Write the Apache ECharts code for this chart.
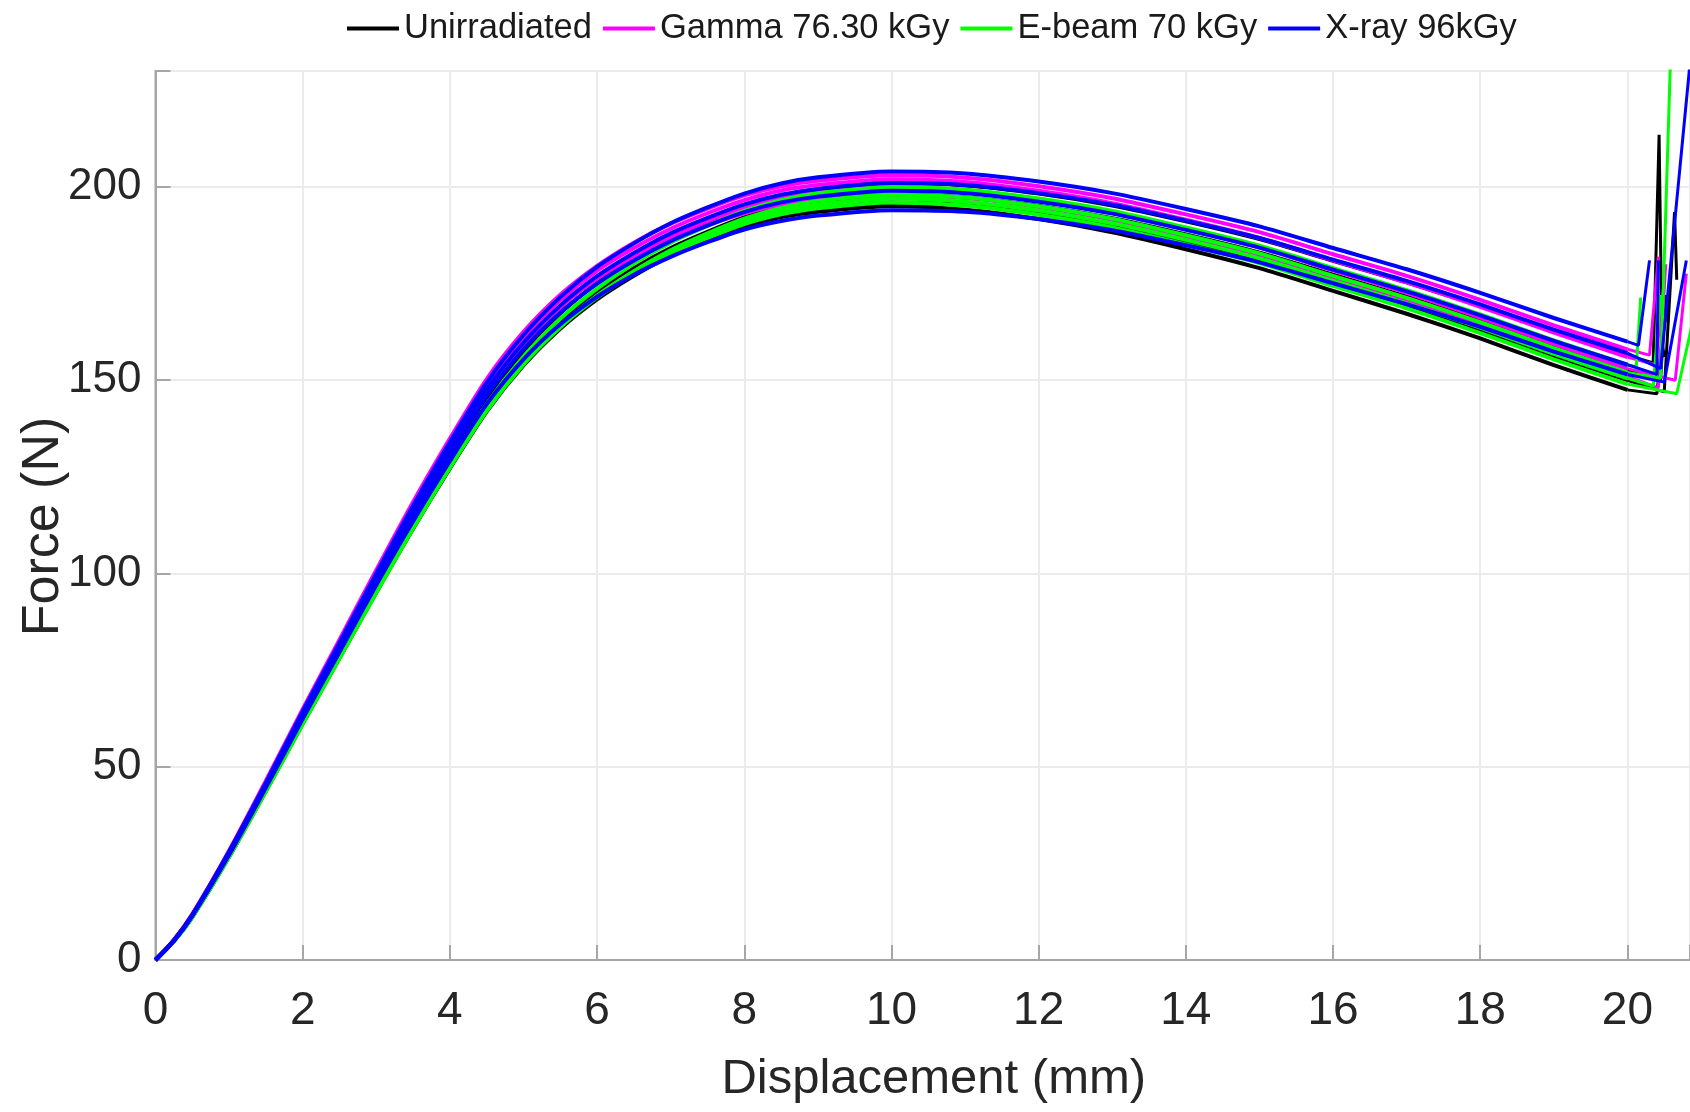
<!DOCTYPE html>
<html>
<head>
<meta charset="utf-8">
<script src="https://cdn.jsdelivr.net/npm/echarts@6/dist/echarts.min.js"></script>
<style>
html,body{margin:0;padding:0;background:#fff;}
#chart{width:1690px;height:1112px;}
</style>
</head>
<body>
<div id="chart"></div>
<script>
// Displacement grid (mm) shared by all specimen curves
const X = [0,0.25,0.5,1,1.5,2,2.5,3,3.5,4,4.5,5,5.5,6,6.5,7,7.5,8,8.5,9,10,11,12,13,14,15,16,17,18,19,20];

// Unirradiated specimens (Force, N)
const K1 = [0,4.9,11.4,27.2,44.6,62.4,79.7,97.0,114.1,130.2,145.3,157.5,167.3,175.1,181.5,186.8,191.1,194.9,197.7,199.4,201,200.4,198.3,195.2,191.1,186.5,180.9,175.3,169.2,162.6,156.5];
const K2 = [0,4.9,11.3,26.9,44.1,61.7,78.9,96.0,112.8,128.6,143.5,155.5,165.1,172.7,179.0,184.2,188.4,192.1,194.8,196.4,198,197.3,195.1,191.9,187.7,183.0,177.3,171.6,165.4,158.7,152.5];
const K3 = [0,4.9,11.1,26.7,43.7,61.1,78.1,95.1,111.6,127.2,141.9,153.8,163.3,170.9,177.0,182.2,186.4,190.1,192.8,194.4,196,195.3,193.0,189.8,185.5,180.8,175.0,169.3,163.0,156.3,150.0];
const K4 = [0,4.9,11.4,27.2,44.6,62.4,79.7,97.0,113.6,129.3,144.0,155.7,164.9,172.1,177.9,182.6,186.5,189.8,192.2,193.6,195,194.1,191.7,188.3,183.9,179.0,173.1,167.2,160.8,153.9,147.5];
const K1end = [[20.35,154.5],[20.43,213.5],[20.46,172]];
const K2end = [[20.45,150],[20.52,172],[20.55,165]];
const K3end = [[20.5,147],[20.64,193.5],[20.67,176]];
const K4end = [[20.4,146.5],[20.47,160],[20.5,156]];

// Gamma 76.30 kGy specimens
const G1 = [0,5.2,11.9,28.3,46.4,64.9,82.9,100.9,118.5,134.9,150.3,162.5,172.1,179.6,185.6,190.5,194.4,197.8,200.2,201.6,203,202.4,200.2,197.1,192.9,188.3,182.6,177.0,170.8,164.2,158.0];
const G2 = [0,5.1,11.7,28.1,45.9,64.3,82.1,100.0,117.4,133.7,148.9,161.1,170.7,178.3,184.2,189.2,193.2,196.6,199.1,200.5,202,201.3,199.0,195.8,191.5,186.8,181.0,175.3,169.0,162.3,156.0];
const G3 = [0,5.1,11.6,27.8,45.5,63.6,81.3,99.0,116.1,132.3,147.4,159.4,168.9,176.4,182.3,187.3,191.2,194.6,197.1,198.5,200,199.2,196.8,193.5,189.1,184.3,178.4,172.6,166.2,159.4,153.0];
const G4 = [0,5.1,11.7,28.1,45.9,64.3,82.1,100.0,117.0,133.1,148.1,159.9,169.1,176.3,181.8,186.4,190.1,193.2,195.4,196.7,198,197.2,194.8,191.5,187.1,182.3,176.4,170.6,164.2,157.4,151.0];
const G1end = [[20.3,156.5],[20.42,182]];
const G2end = [[20.38,154],[20.5,176]];
const G3end = [[20.65,150],[20.8,177.6]];
const G4end = [[20.42,148],[20.52,180]];

// E-beam 70 kGy specimens
const E1 = [0,4.9,11.3,26.9,44.1,61.7,78.9,96.0,113.0,128.9,143.9,156.1,165.9,173.7,180.2,185.6,189.9,193.8,196.6,198.4,200,199.3,197.0,193.8,189.5,184.8,179.0,173.3,167.0,160.3,154.0];
const E2 = [0,4.9,11.1,26.7,43.7,61.1,78.1,95.1,111.7,127.5,142.4,154.4,164.1,171.9,178.2,183.6,188.0,191.8,194.6,196.4,198,197.3,195.0,191.8,187.5,182.8,177.0,171.3,165.0,158.3,152.0];
const E3 = [0,4.9,11.1,26.7,43.7,61.1,78.1,95.1,111.7,127.4,142.1,154.1,163.7,171.4,177.6,182.9,187.2,190.9,193.7,195.4,197,196.2,193.9,190.6,186.3,181.5,175.7,169.9,163.6,156.8,150.5];
const E4 = [0,4.9,11.3,26.9,44.1,61.7,78.9,96.0,112.6,128.3,143.1,154.9,164.3,171.7,177.8,182.8,186.8,190.4,192.9,194.5,196,195.2,192.8,189.5,185.1,180.3,174.4,168.6,162.2,155.4,149.0];
const E1end = [[20.12,153.5],[20.18,171.4]];
const E2end = [[20.45,150.5],[20.59,236]];
const E3end = [[20.35,148.5],[20.45,172]];
const E4end = [[20.67,146.5],[20.92,168]];

// X-ray 96kGy specimens
const R1 = [0,5.1,11.7,28.1,45.9,64.3,82.1,100.0,117.5,134.0,149.4,161.7,171.5,179.3,185.4,190.6,194.7,198.3,200.9,202.5,204,203.5,201.4,198.4,194.3,189.8,184.2,178.7,172.6,166.1,160.0];
const R2 = [0,5.1,11.6,27.8,45.5,63.6,81.3,99.0,116.2,132.4,147.6,159.7,169.3,176.9,182.9,188.0,192.0,195.5,198.0,199.5,201,200.5,198.4,195.4,191.3,186.8,181.2,175.7,169.6,163.1,157.0];
const R3 = [0,5,11.5,27.5,45,63,80.5,98,115,131,146,158,167.5,175,181,186,190,193.5,196,197.5,199,198.4,196.2,193.1,188.9,184.3,178.6,173.0,166.8,160.2,154.0];
const R4 = [0,4.9,11.4,27.2,44.6,62.4,79.7,97.0,113.5,129.1,143.8,155.4,164.5,171.6,177.3,181.9,185.7,189.0,191.2,192.6,194,193.6,191.7,188.8,184.9,180.5,175.1,169.7,163.8,157.4,151.5];
const R1end = [[20.15,159],[20.3,181]];
const R2end = [[20.45,153],[20.85,232]];
const R3end = [[20.4,151.5],[20.42,181]];
const R4end = [[20.5,149.5],[20.8,181]];

const NAMES = ['Unirradiated','Gamma 76.30 kGy','E-beam 70 kGy','X-ray 96kGy'];
const COLORS = ['#000000','#ff00ff','#00ff00','#0000ff'];
const XTICKS = [0,2,4,6,8,10,12,14,16,18,20];
const YTICKS = [0,50,100,150,200];

const groups = [
  [[K1,K1end],[K2,K2end],[K3,K3end],[K4,K4end]],
  [[G1,G1end],[G2,G2end],[G3,G3end],[G4,G4end]],
  [[E1,E1end],[E2,E2end],[E3,E3end],[E4,E4end]],
  [[R1,R1end],[R2,R2end],[R3,R3end],[R4,R4end]]
];

const LW = 4;
const series = [];
groups.forEach((g, gi) => {
  g.forEach(([ys, tail]) => {
    const main = X.map((x, i) => [x, ys[i]]);
    series.push({
      name: NAMES[gi], type: 'line', data: main,
      symbol: 'none', showSymbol: false, clip: true,
      smooth: 0.25,
      lineStyle: { color: COLORS[gi], width: LW },
      itemStyle: { color: COLORS[gi] },
      emphasis: { disabled: true }
    });
    series.push({
      name: NAMES[gi], type: 'line', data: [main[main.length - 1]].concat(tail),
      symbol: 'none', showSymbol: false, clip: true,
      lineStyle: { color: COLORS[gi], width: 3 },
      itemStyle: { color: COLORS[gi] },
      emphasis: { disabled: true }
    });
  });
});

const FONT = '"Liberation Sans", Arial, sans-serif';

const chart = echarts.init(document.getElementById('chart'), null, { renderer: 'canvas' });
chart.setOption({
  animation: false,
  backgroundColor: '#ffffff',
  grid: {
    left: 155.5, right: 0, top: 71, bottom: 152,
    containLabel: false, outerBoundsMode: 'none',
    show: true, borderColor: '#a6a6a6', borderWidth: 2, backgroundColor: 'transparent'
  },
  legend: {
    data: NAMES,
    left: 347, top: 11, padding: 0,
    icon: 'rect',
    itemWidth: 52, itemHeight: 4, itemGap: 11,
    textStyle: { fontFamily: FONT, fontSize: 34.5, color: '#1a1a1a' }
  },
  xAxis: {
    type: 'value', min: 0, max: 20.85, interval: 2,
    name: 'Displacement (mm)', nameLocation: 'middle', nameGap: 95,
    nameTextStyle: { fontFamily: FONT, fontSize: 49, color: '#262626', padding: [0, 0, 0, 22] },
    axisLine: { show: true, lineStyle: { color: '#a6a6a6', width: 2 } },
    axisTick: { show: true, inside: true, length: 15, lineStyle: { color: '#a6a6a6', width: 2 } },
    splitLine: { show: true, lineStyle: { color: '#ebebeb', width: 2 } },
    axisLabel: {
      fontFamily: FONT, fontSize: 46, color: '#262626', margin: 28,
      formatter: v => (XTICKS.indexOf(Math.round(v * 100) / 100) >= 0 ? String(v) : '')
    }
  },
  yAxis: {
    type: 'value', min: 0, max: 230, interval: 50,
    name: 'Force (N)', nameLocation: 'middle', nameGap: 86, nameMoveOverlap: false,
    nameTextStyle: { fontFamily: FONT, fontSize: 52, color: '#262626', padding: [0, 22, 0, 0] },
    axisLine: { show: true, lineStyle: { color: '#a6a6a6', width: 2 } },
    axisTick: { show: true, inside: true, length: 15, lineStyle: { color: '#a6a6a6', width: 2 } },
    splitLine: { show: true, lineStyle: { color: '#ebebeb', width: 2 } },
    axisLabel: {
      fontFamily: FONT, fontSize: 44, color: '#262626', margin: 14,
      formatter: v => (YTICKS.indexOf(v) >= 0 ? String(v) : '')
    }
  },
  series: series
});
</script>
</body>
</html>
